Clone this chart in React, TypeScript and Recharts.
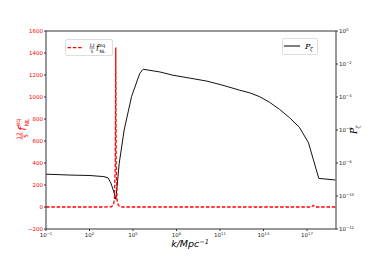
import React from "react";
import {
  ComposedChart,
  Line,
  XAxis,
  YAxis,
  Legend,
  Label,
  ReferenceLine,
} from "recharts";

// k values (Mpc^-1) and power spectrum P_zeta (black, right log axis)
const kPzeta = [
  1e-1, 4.5, 107, 980, 1.9e3, 2.95e3, 4.8e3, 6.6e3, 1.12e4, 2.45e4, 7.9e4,
  2.95e5, 5e5, 7.1e6, 5.5e7, 8.1e8, 1.15e10, 1.29e11, 2.24e12, 1.1e13,
  5.4e13, 2.6e14, 1.26e15, 6.2e15, 3e16, 1.26e17, 6.5e17, 9.1e18,
];
const pzeta = [
  2.1e-9, 1.86e-9, 1.74e-9, 1.5e-9, 1.26e-9, 6.3e-10, 1.74e-10, 6.3e-11,
  9.5e-9, 1e-6, 1.05e-4, 2.75e-3, 4.8e-3, 3.3e-3, 2.1e-3, 1.4e-3, 9.3e-4,
  5.4e-4, 2.6e-4, 1.8e-4, 1.05e-4, 4.8e-5, 1.8e-5, 5.6e-6, 1.45e-6, 1.7e-7,
  1.17e-9, 9.3e-10,
];

// k values and 12/5 f_NL^eq (red dashed, left linear axis)
const kFnl = [
  1e-1, 1e3, 3.2e3, 4.5e3, 5.2e3, 6.0e3, 6.5e3, 6.9e3, 7.9e3, 9.5e3, 1.26e4,
  2e4, 2e17, 2.75e17, 3.5e17, 1e19,
];
const fnl = [0, 0, 2, 20, 70, 400, 1450, 400, 70, 20, 2, 0, 0, 15, 0, 0];

const xTicks = [1e-1, 1e2, 1e5, 1e8, 1e11, 1e14, 1e17];
const leftTicks = [-200, 0, 200, 400, 600, 800, 1000, 1200, 1400, 1600];
const rightTicks = [1e-12, 1e-10, 1e-8, 1e-6, 1e-4, 1e-2, 1];

const pData = kPzeta.map((k, i) => ({ k, p: pzeta[i] }));
const fData = kFnl.map((k, i) => ({ k, f: fnl[i] }));

const FONT = "DejaVu Sans";
const RED = "#ff0000";

const exp10 = (v: number) => {
  const e = Math.round(Math.log10(v));
  return e < 0 ? "\u2212" + Math.abs(e) : String(e);
};

const XTick = ({ x, y, payload }: any) => (
  <text x={x} y={y + 5} textAnchor="middle" fontSize={5.5} fontFamily={FONT} fill="#222">
    <tspan>10</tspan>
    <tspan dy={-2.5} fontSize={3.8}>{exp10(payload.value)}</tspan>
  </text>
);

const LeftTick = ({ x, y, payload }: any) => (
  <text x={x} y={y + 2} textAnchor="end" fontSize={5.5} fontFamily={FONT} fill={RED}>
    {String(payload.value).replace("-", "\u2212")}
  </text>
);

const RightTick = ({ x, y, payload }: any) => (
  <text x={x} y={y + 2} textAnchor="start" fontSize={5.5} fontFamily={FONT} fill="#222">
    <tspan>10</tspan>
    <tspan dy={-2.5} fontSize={3.8}>{exp10(payload.value)}</tspan>
  </text>
);

const FnlSymbol = ({ color }: { color: string }) => (
  <g fill={color} fontFamily={FONT}>
    <text x={0} y={-1} fontSize={4.5} textAnchor="middle">12</text>
    <line x1={-2.8} x2={2.8} y1={0} y2={0} stroke={color} strokeWidth={0.5} />
    <text x={0} y={4.5} fontSize={4.5} textAnchor="middle">5</text>
    <text x={4} y={3} fontSize={8} fontStyle="italic">f</text>
    <text x={7.5} y={-1.5} fontSize={4.5}>eq</text>
    <text x={7.5} y={5} fontSize={4.5}>NL</text>
  </g>
);

const PSymbol = ({ size }: { size: number }) => (
  <g fill="#000">
    <text x={0} y={0} fontSize={size} fontStyle="italic" fontFamily="DejaVu Serif">P</text>
    <text x={size * 0.62} y={size * 0.3} fontSize={size * 0.6} fontStyle="italic" fontFamily="DejaVu Serif">
      ζ
    </text>
  </g>
);

const LegendBoxes = () => (
  <div style={{ position: "relative", width: 374, height: 262, pointerEvents: "none" }}>
    <div
      style={{
        position: "absolute",
        left: 65,
        top: 39,
        width: 48,
        height: 17,
        border: "1px solid #ddd",
        borderRadius: 2,
        background: "#fff",
        boxSizing: "border-box",
      }}
    >
      <svg width={48} height={17} style={{ position: "absolute", left: -1, top: -1 }}>
        <line x1={2.5} x2={18.5} y1={8.7} y2={8.7} stroke={RED} strokeWidth={1.3} strokeDasharray="3.5 1.8" />
        <g transform="translate(27,9)">
          <FnlSymbol color="#000" />
        </g>
      </svg>
    </div>
    <div
      style={{
        position: "absolute",
        left: 282,
        top: 38,
        width: 36,
        height: 17,
        border: "1px solid #ddd",
        borderRadius: 2,
        background: "#fff",
        boxSizing: "border-box",
      }}
    >
      <svg width={36} height={17} style={{ position: "absolute", left: -1, top: -1 }}>
        <line x1={2} x2={18} y1={8} y2={8} stroke="#000" strokeWidth={1} />
        <g transform="translate(23,10.5)">
          <PSymbol size={8} />
        </g>
      </svg>
    </div>
  </div>
);

export default function App() {
  return (
    <div style={{ position: "absolute", left: 0, top: 0, width: 374, height: 262, background: "#fff" }}>
      <ComposedChart width={374} height={262} margin={{ top: 31, right: 0, bottom: 0, left: 0 }}>
        <XAxis
          dataKey="k"
          type="number"
          scale="log"
          domain={[1e-1, 1e19]}
          ticks={xTicks}
          interval={0}
          allowDataOverflow
          height={33}
          tickSize={2}
          tickMargin={1}
          tick={<XTick />}
          stroke="#333"
        >
          <Label
            content={() => (
              <text x={190} y={247} textAnchor="middle" fontSize={9.5} fontStyle="italic" fontFamily={FONT} fill="#000">
                <tspan>k/Mpc</tspan>
                <tspan dy={-3.5} fontSize={6.5}>{"\u22121"}</tspan>
              </text>
            )}
          />
        </XAxis>
        <YAxis
          yAxisId="left"
          type="number"
          domain={[-200, 1600]}
          ticks={leftTicks}
          interval={0}
          width={46}
          tickSize={2}
          tickMargin={1}
          tick={<LeftTick />}
          stroke="#333"
          allowDataOverflow
        >
          <Label
            content={() => (
              <g transform="translate(22,136) rotate(-90) scale(1.3)">
                <FnlSymbol color={RED} />
              </g>
            )}
          />
        </YAxis>
        <YAxis
          yAxisId="right"
          orientation="right"
          type="number"
          scale="log"
          domain={[1e-12, 1]}
          ticks={rightTicks}
          interval={0}
          width={38}
          tickSize={2}
          tickMargin={1}
          tick={<RightTick />}
          stroke="#333"
          allowDataOverflow
        >
          <Label
            content={() => (
              <g transform="translate(357,134) rotate(-90)">
                <PSymbol size={9} />
              </g>
            )}
          />
        </YAxis>
        <ReferenceLine yAxisId="left" y={1600} stroke="#333" />
        <Line
          yAxisId="right"
          data={pData}
          dataKey="p"
          type="linear"
          stroke="#111"
          strokeWidth={1}
          dot={false}
          isAnimationActive={false}
        />
        <Line
          yAxisId="left"
          data={fData}
          dataKey="f"
          type="linear"
          stroke={RED}
          strokeWidth={1.3}
          strokeDasharray="3.5 1.8"
          dot={false}
          isAnimationActive={false}
        />
        <Legend
          layout="horizontal"
          verticalAlign="middle"
          align="center"
          wrapperStyle={{ left: 0, top: 0, width: 374, height: 262 }}
          content={() => <LegendBoxes />}
        />
      </ComposedChart>
    </div>
  );
}
